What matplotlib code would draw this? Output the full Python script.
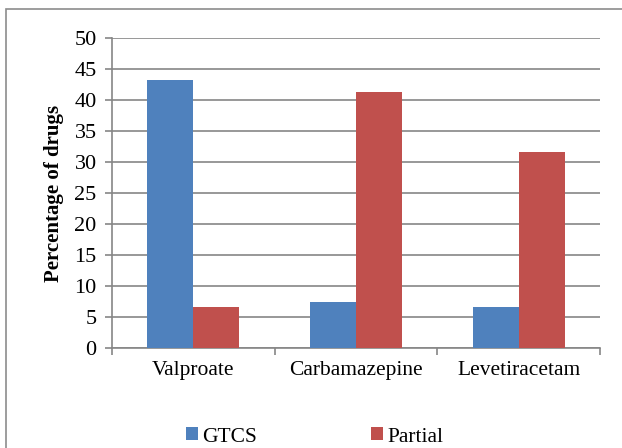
import numpy as np
import matplotlib.pyplot as plt
from matplotlib.patches import Rectangle

plt.rcParams['font.family'] = ['Liberation Serif', 'DejaVu Serif']

# data
drugs = ['Valproate', 'Carbamazepine', 'Levetiracetam']
gtcs = [43.3, 7.5, 6.6]
partial = [6.6, 41.3, 31.6]
series_names = ['GTCS', 'Partial']

blue = '#4F81BD'
red = '#C0504D'
grey = '#868686'

fig = plt.figure(figsize=(6.22, 4.48), dpi=100)
ax = fig.add_axes([112 / 622, 1 - 348 / 448, 488 / 622, 310 / 448])

x = np.arange(len(drugs))
w = 0.282
ax.bar(x - w / 2, gtcs, w, color=blue, label=series_names[0], zorder=3)
ax.bar(x + w / 2, partial, w, color=red, label=series_names[1], zorder=3)

ax.set_xlim(-0.5, len(drugs) - 0.5)
ax.set_ylim(0, 50)
ax.set_yticks(np.arange(0, 51, 5))
ax.yaxis.grid(True, color=grey, linewidth=1.2, zorder=0)
ax.set_axisbelow(True)

for s in ['top', 'right']:
    ax.spines[s].set_visible(False)
for s in ['left', 'bottom']:
    ax.spines[s].set_color(grey)
    ax.spines[s].set_linewidth(1.2)

ax.set_xticks(x)
ax.set_xticklabels(drugs, fontsize=15.5)
ax.set_xticks(np.arange(-0.5, len(drugs), 1), minor=True)
ax.tick_params(axis='x', which='major', length=0, pad=9)
ax.tick_params(axis='x', which='minor', length=5, width=1.2, color=grey)
ax.tick_params(axis='y', length=5, width=1.2, color=grey, labelsize=16, pad=6)

ax.set_ylabel('Percentage of drugs', fontsize=15, fontweight='bold')
ax.yaxis.set_label_coords(-0.098, 0.5)

fig.legend(loc='center', bbox_to_anchor=(315 / 622, 1 - 437 / 448), ncol=2,
           frameon=False, fontsize=15.5, handlelength=0.55, handleheight=0.55,
           handletextpad=0.2, columnspacing=5.3, borderpad=0)

# outer chart frame
fig.patches.append(Rectangle((6 / 622, -0.5), 1.5, 1 - 9 / 448 + 0.5,
                             transform=fig.transFigure, fill=False,
                             edgecolor='#8C8C8C', linewidth=1.2))

fig.savefig('out.png', dpi=100)
